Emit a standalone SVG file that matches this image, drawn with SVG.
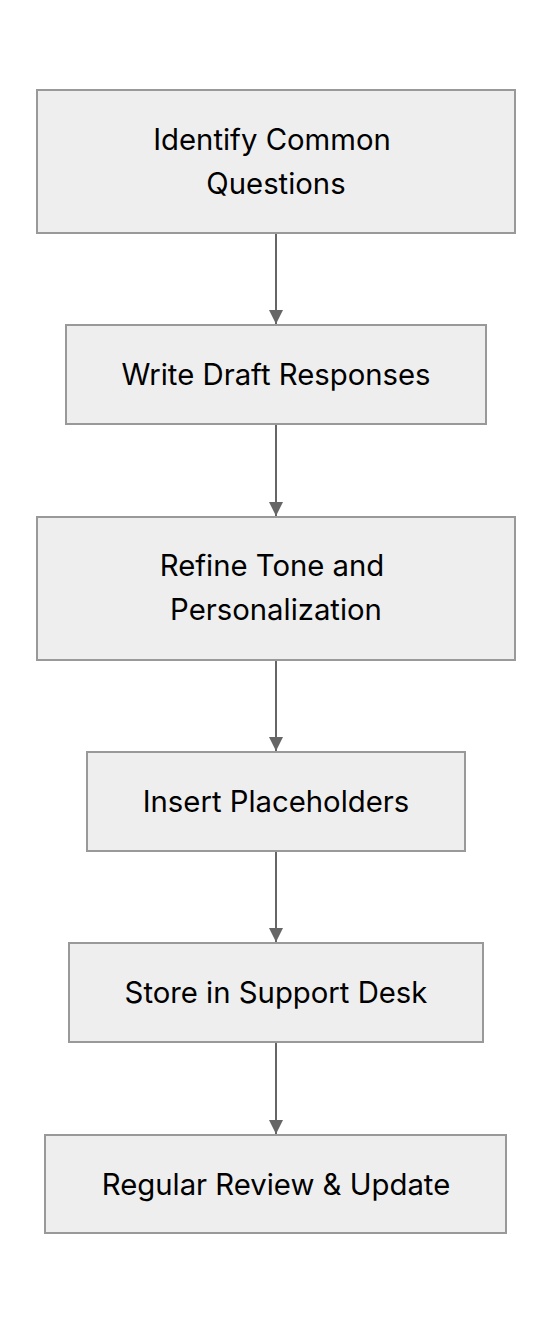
<svg xmlns="http://www.w3.org/2000/svg" width="552" height="1324" viewBox="0 0 552 1324">
<style>
.n rect{fill:#eeeeee;stroke:#999999;stroke-width:2}
.n text{font-family:Inter,"Noto Sans",sans-serif;font-size:29.3px;fill:#000000;text-anchor:middle;dominant-baseline:central}
.e line{stroke:#666666;stroke-width:2}
</style>
<defs>
<marker id="ah" viewBox="0 0 10 10" refX="10" refY="5" markerWidth="7" markerHeight="7" markerUnits="strokeWidth" orient="auto">
<path d="M0,0 L10,5 L0,10 z" fill="#666666"/>
</marker>
</defs>
<rect width="552" height="1324" fill="#ffffff"/>
<g id="edges" class="e">
<line x1="276" y1="234" x2="276" y2="324" marker-end="url(#ah)"/>
<line x1="276" y1="425" x2="276" y2="516" marker-end="url(#ah)"/>
<line x1="276" y1="661" x2="276" y2="751" marker-end="url(#ah)"/>
<line x1="276" y1="852" x2="276" y2="942" marker-end="url(#ah)"/>
<line x1="276" y1="1043" x2="276" y2="1134" marker-end="url(#ah)"/>
</g>
<g id="n1" class="n"><rect x="37" y="90" width="478" height="143"/><text x="272" y="139">Identify Common</text><text x="276" y="183">Questions</text></g>
<g id="n2" class="n"><rect x="66" y="325" width="420" height="99"/><text x="276" y="374">Write Draft Responses</text></g>
<g id="n3" class="n"><rect x="37" y="517" width="478" height="143"/><text x="272" y="565">Refine Tone and</text><text x="276" y="609">Personalization</text></g>
<g id="n4" class="n"><rect x="87" y="752" width="378" height="99"/><text x="276" y="801">Insert Placeholders</text></g>
<g id="n5" class="n"><rect x="69" y="943" width="414" height="99"/><text x="276" y="992">Store in Support Desk</text></g>
<g id="n6" class="n"><rect x="45" y="1135" width="461" height="98"/><text x="276" y="1184">Regular Review &amp; Update</text></g>
</svg>
